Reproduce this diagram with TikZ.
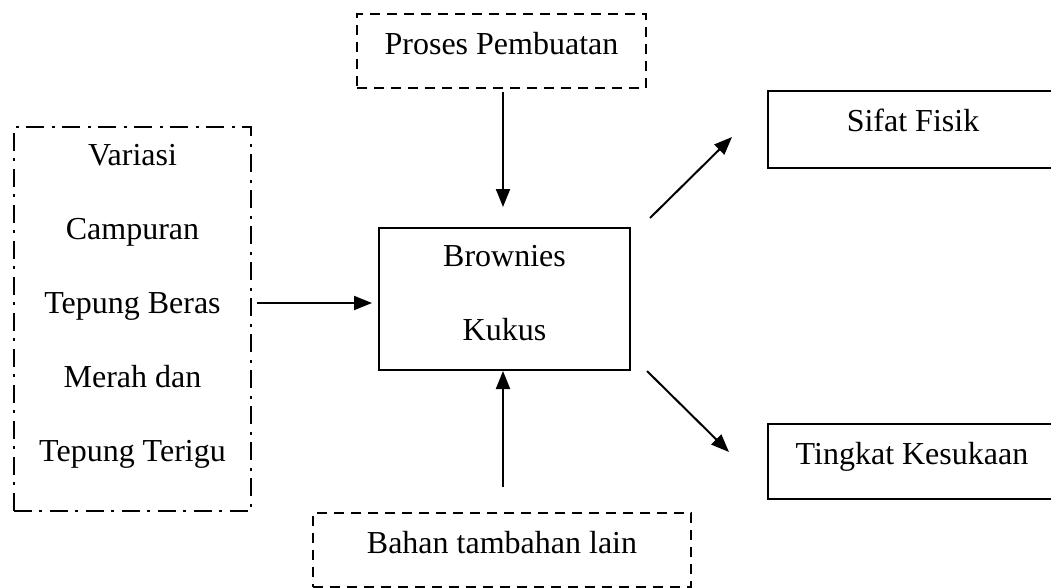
\documentclass[tikz,border=0pt]{standalone}
\usepackage{fontspec}
\setmainfont{Liberation Serif}
\usetikzlibrary{arrows.meta}
\begin{document}
\begin{tikzpicture}[x=1pt,y=-1pt,
  box/.style={draw=black,line width=2pt,rectangle,inner sep=0pt,anchor=north west,align=center,
    font=\fontsize{32}{74}\selectfont},
  dashbox/.style={box,dash pattern=on 10pt off 7pt},
  dotbox/.style={box,dash pattern=on 18pt off 7pt on 3pt off 8pt},
  arr/.style={line width=2pt,-{Triangle[length=18pt,width=14pt]}}]
\useasboundingbox (0,0) rectangle (1051,587);
\clip (0,0) rectangle (1051,587);
\node[dashbox,minimum width=289pt,text height=40pt,text depth=34pt] (proses) at (356,13) {Proses Pembuatan};
\node[dotbox,minimum width=237pt,text height=334pt,text depth=50pt] (variasi) at (13,126)
  {Variasi\\Campuran\\Tepung Beras\\Merah dan\\Tepung Terigu};
\node[box,minimum width=251pt,text height=112pt,text depth=30pt] (brownies) at (378,227) {Brownies\\Kukus};
\node[box,minimum width=290pt,text height=40pt,text depth=37pt] (sifat) at (767,90) {Sifat Fisik};
\node[box,minimum width=288pt,text height=40pt,text depth=35pt] (tingkat) at (767,423) {Tingkat Kesukaan};
\node[dashbox,minimum width=378pt,text height=40pt,text depth=34pt] (bahan) at (312,512) {Bahan tambahan lain};
\coordinate (p1) at (503,92);
\coordinate (p2) at (503,207);
\coordinate (b1) at (503,487);
\coordinate (b2) at (503,371);
\coordinate (v1) at (257,303);
\coordinate (v2) at (372,303);
\coordinate (s1) at (650,218);
\coordinate (s2) at (732,137);
\coordinate (t1) at (647,371);
\coordinate (t2) at (729,452);
\draw[arr] (p1) -- (p2);
\draw[arr] (b1) -- (b2);
\draw[arr] (v1) -- (v2);
\draw[arr] (s1) -- (s2);
\draw[arr] (t1) -- (t2);
\end{tikzpicture}
\end{document}
